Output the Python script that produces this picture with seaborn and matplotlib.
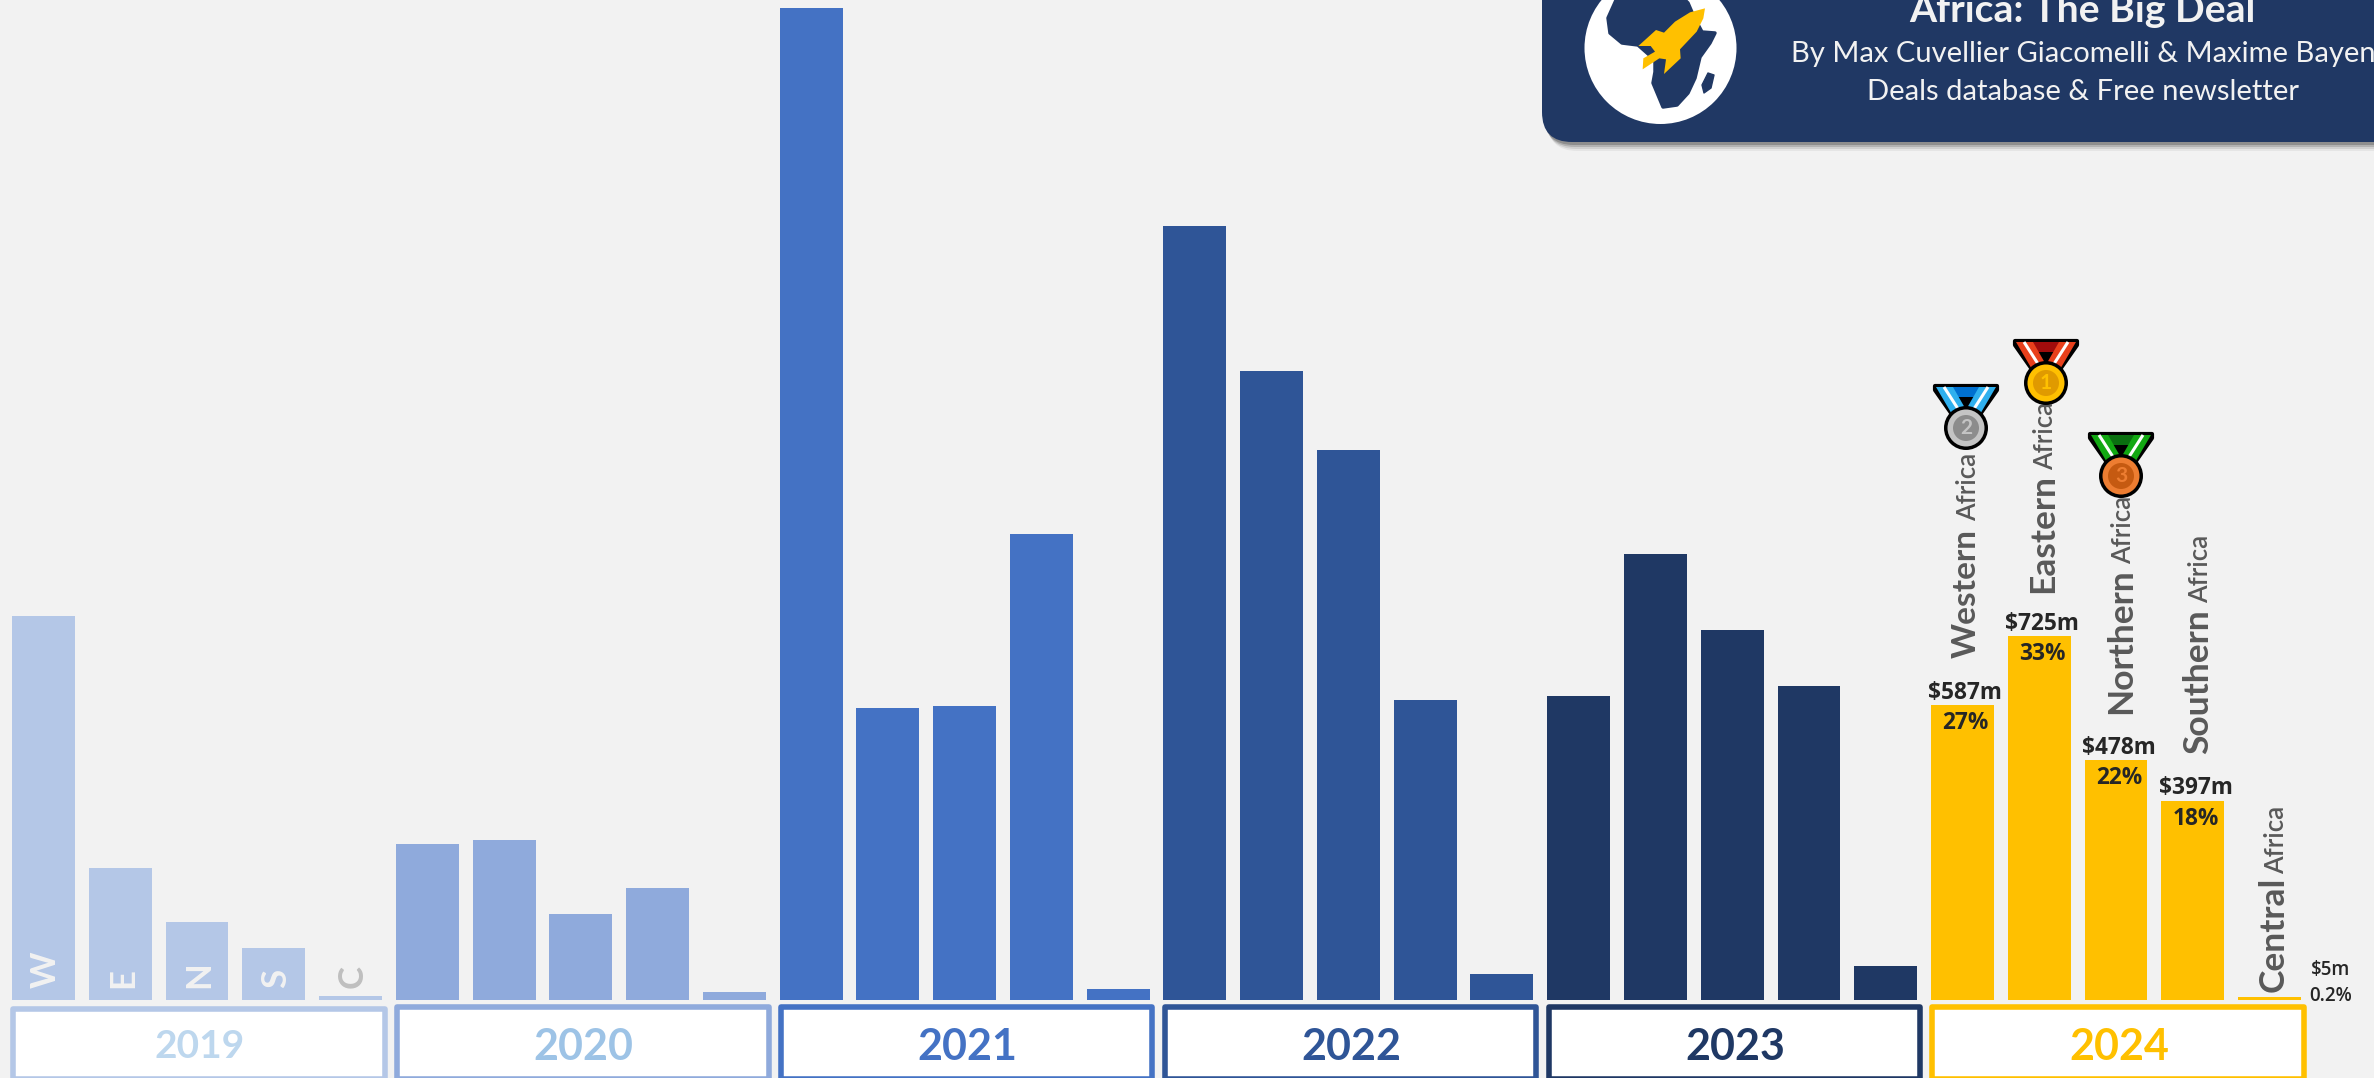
import pandas as pd
import seaborn as sns
import matplotlib.pyplot as plt
from matplotlib.patches import Rectangle, FancyBboxPatch, Polygon, Circle

# Data ($m per region, per year)
YEARS = ["2019", "2020", "2021", "2022", "2023", "2024"]
REGIONS = ["Western", "Eastern", "Northern", "Southern", "Central"]
V2019 = [765, 263, 155, 104, 8]
V2020 = [311, 319, 171, 223, 16]
V2021 = [1976, 582, 586, 928, 21]
V2022 = [1542, 1252, 1096, 598, 52]
V2023 = [605, 888, 737, 625, 68]
V2024 = [587, 725, 478, 397, 5]
SHARE_2024 = ["27%", "33%", "22%", "18%", "0.2%"]
INITIALS = ["W", "E", "N", "S", "C"]

BAR_COLORS = ["#B4C7E7", "#8FAADC", "#4472C4", "#2F5597", "#1F3864", "#FFC000"]
YEAR_COLORS = ["#BDD7EE", "#9DC3E6", "#4472C4", "#2F5597", "#1F3864", "#FFC000"]
NAVY = "#203864"
GREY = "#595959"
DARK = "#262626"

W, H = 2374, 1078
BASE_Y = 1000
PX_PER_M = 0.502
X0 = 43.5
STEP = 76.76

rows = []
for year, vals in zip(YEARS, [V2019, V2020, V2021, V2022, V2023, V2024]):
    for reg, v in zip(REGIONS, vals):
        rows.append({"bar": f"{year} {reg}", "year": year, "region": reg, "value": v})
df = pd.DataFrame(rows)

sns.set_style("white")
plt.rcParams["font.family"] = ["Lato", "DejaVu Sans"]

fig = plt.figure(figsize=(W / 100, H / 100), dpi=100, facecolor="#F2F2F2")
ax = fig.add_axes([0, 0, 1, 1])
sns.barplot(data=df, x="bar", y="value", hue="year", palette=BAR_COLORS, dodge=False,
            width=0.82, saturation=1, legend=False, linewidth=0, ax=ax)
ax.set_xlim(-X0 / STEP, (W - X0) / STEP)
ax.set_ylim((BASE_Y - H) / PX_PER_M, BASE_Y / PX_PER_M)
ax.axis("off")

# overlay in pixel coordinates for the decorations
ov = fig.add_axes([0, 0, 1, 1], facecolor="none")
ov.set_xlim(0, W)
ov.set_ylim(H, 0)
ov.axis("off")


def bar_x(i):
    return X0 + STEP * i


# year boxes
for k, year in enumerate(YEARS):
    left = bar_x(5 * k) - 33 + 2.8
    right = bar_x(5 * k + 4) + 37 - 2.8
    top = 1009 if k == 0 else 1007
    ov.add_patch(Rectangle((left, top), right - left, 1078.5 - top, fc="white", ec=BAR_COLORS[k],
                           lw=4, joinstyle="round"))
    fs = 28 if k == 0 else 31
    ov.text((left + right) / 2 + 1, 1047, year, color=YEAR_COLORS[k], fontsize=fs, fontweight="bold",
            ha="center", va="center")

# initials on the 2019 bars
for i, letter in enumerate(INITIALS):
    color = "#BFBFBF" if letter == "C" else "#F2F2F2"
    ov.text(bar_x(i) + 12.5, 988, letter, color=color, fontsize=25, fontweight="bold", rotation=90,
            rotation_mode="anchor", ha="left", va="baseline")

# 2024 value labels
for i, (v, share) in enumerate(zip(V2024[:4], SHARE_2024[:4])):
    xp = 25 + i
    ax.annotate(f"${v}m", (xp, v), xytext=(2, 9), textcoords="offset points", ha="center", va="center",
                fontsize=16.3, fontweight="bold", family="Open Sans", color=DARK)
    ax.annotate(share, (xp, v), xytext=(2, -13), textcoords="offset points", ha="center", va="center",
                fontsize=16.3, fontweight="bold", family="Open Sans", color=DARK)
ov.text(2331, 970, f"${V2024[4]}m", fontsize=13.5, fontweight="semibold", family="Open Sans", color=DARK,
        ha="center", va="center")
ov.text(2331, 996, SHARE_2024[4], fontsize=13.5, fontweight="semibold", family="Open Sans", color=DARK,
        ha="center", va="center")

# rotated region names: baseline x, start of the name, start of "Africa", name size
LABEL_POS = [(1976, 658, 521, 24), (2053, 593, 470, 25.5), (2131, 714, 564, 25.5), (2208, 754, 603, 25.5),
             (2284, 992, 874, 25.5)]
for reg, (xb, y1, y2, fs) in zip(REGIONS, LABEL_POS):
    ov.text(xb, y1, reg, rotation=90, rotation_mode="anchor", ha="left", va="baseline",
            fontsize=fs, fontweight="bold", color=GREY)
    ov.text(xb, y2, "Africa", rotation=90, rotation_mode="anchor", ha="left", va="baseline",
            fontsize=18.5, fontweight=600, color=GREY)


# medals
def medal(cx, cy, strap, band, disk, inner, num):
    ov.add_patch(Polygon([(cx - 31, cy - 42), (cx + 31, cy - 42), (cx + 31, cy - 38), (cx + 10, cy - 8),
                          (cx - 10, cy - 8), (cx - 31, cy - 38)], fc="black", ec="black", lw=3,
                         joinstyle="round", zorder=5))
    ov.add_patch(Polygon([(cx - 18, cy - 41), (cx + 18, cy - 41), (cx + 9, cy - 31), (cx - 9, cy - 31)],
                         fc=band, ec="none", zorder=6))
    for s in (-1, 1):
        ov.add_patch(Polygon([(cx + s * 30, cy - 41), (cx + s * 13, cy - 41), (cx + s * 1, cy - 20),
                              (cx + s * 13, cy - 12)], fc=strap, ec="none", zorder=6))
        ov.plot([cx + s * 22, cx + s * 6], [cy - 41, cy - 16], color="white", lw=2.2, zorder=7,
                solid_capstyle="butt")
    ov.add_patch(Circle((cx, cy), 22, fc="black", ec="none", zorder=8))
    ov.add_patch(Circle((cx, cy), 18.5, fc=disk, ec="none", zorder=9))
    ov.add_patch(Circle((cx, cy), 13, fc=inner, ec="none", zorder=10))
    ov.text(cx, cy, num, color=disk, fontsize=15, fontweight="bold", ha="center", va="center", zorder=11)


medal(1966, 428, "#2FB0EE", "#0070D0", "#C4C4C4", "#8C8C8C", "2")
medal(2046, 383, "#E8401C", "#A00C0C", "#FFC000", "#E09A00", "1")
medal(2121, 476, "#12A812", "#0A7010", "#ED7D31", "#C55A11", "3")

# header panel
for off, a in [(9, 0.05), (7, 0.09), (5, 0.14), (3, 0.2)]:
    ov.add_patch(FancyBboxPatch((1542 + off * 0.6, -100 + off), 900, 242, boxstyle="round,pad=0,rounding_size=30",
                                fc="black", ec="none", alpha=a, zorder=12))
ov.add_patch(FancyBboxPatch((1542, -100), 900, 242, boxstyle="round,pad=0,rounding_size=30", fc=NAVY, ec="none",
                            zorder=13))
ov.add_patch(Circle((1660.5, 48), 76, fc="white", ec="none", zorder=14))
AFRICA = [(1617, -2), (1608, 18), (1610, 33), (1622, 43), (1638, 45), (1655, 60), (1655, 72), (1653, 83),
          (1663, 107), (1677, 105), (1688, 93), (1695, 78), (1700, 57), (1710, 43), (1715, 33), (1702, 32),
          (1694, 17), (1688, 3), (1683, -2)]
ov.add_patch(Polygon(AFRICA, fc=NAVY, ec=NAVY, lw=2.5, joinstyle="round", zorder=15))
MADAGASCAR = [(1708, 73), (1714, 75), (1711, 88), (1704, 93), (1702, 85)]
ov.add_patch(Polygon(MADAGASCAR, fc=NAVY, ec=NAVY, lw=1, joinstyle="round", zorder=15))
ROCKET = [(435, 25), (390, 37), (345, 65), (312, 98), (288, 90), (235, 138), (272, 138), (285, 155), (250, 175),
          (248, 208), (298, 175), (318, 178), (312, 222), (362, 175), (360, 148), (410, 95), (430, 55)]
ov.add_patch(Polygon([(1560 + x / 3, y / 3) for x, y in ROCKET], fc="#FFC000", ec="none", zorder=16))

ov.text(2082, 22, "Africa: The Big Deal", color="#F2F2F2", fontsize=28.2, fontweight="bold", ha="center",
        va="baseline", zorder=17)
ov.text(1791, 62, "By Max Cuvellier Giacomelli & Maxime Bayen", color="#F2F2F2", fontsize=21, ha="left",
        va="baseline", zorder=17)
ov.text(2083, 100, "Deals database & Free newsletter", color="#F2F2F2", fontsize=21, ha="center",
        va="baseline", zorder=17)

fig.savefig("out.png", dpi=100)
plt.close(fig)
